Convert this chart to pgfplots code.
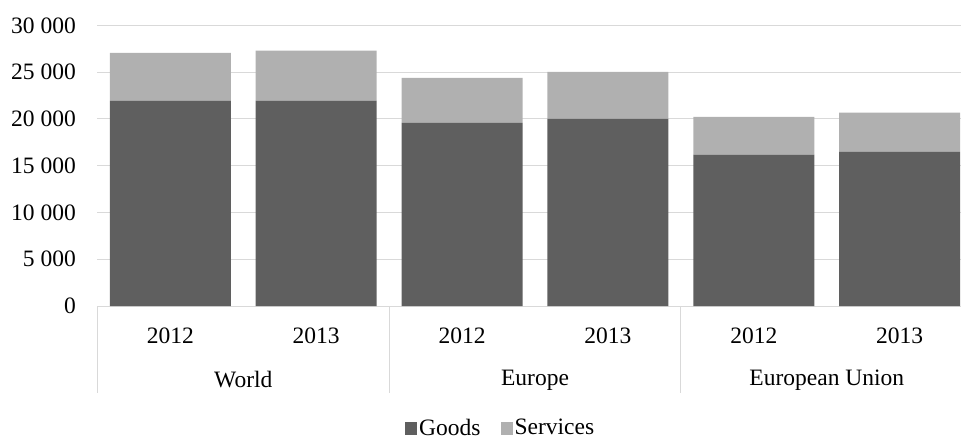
\documentclass[border=0pt]{standalone}
\usepackage{fontspec}
\setmainfont{Liberation Serif}
\usepackage{pgfplots}
\pgfplotsset{compat=1.18}
\definecolor{goods}{HTML}{5F5F5F}
\definecolor{serv}{HTML}{B0B0B0}
\definecolor{gridc}{HTML}{D9D9D9}
\begin{document}
\fontsize{23.5}{28}\selectfont
\begin{tikzpicture}
\begin{axis}[
  at={(0,0)}, anchor=south west,
  scale only axis, width=863.6pt, height=280.7pt,
  ybar stacked, bar width=121pt,
  xmin=-0.5, xmax=5.42, ymin=0, ymax=30000,
  scaled y ticks=false,
  xtick={0,...,5}, xticklabels={2012,2013,2012,2013,2012,2013},
  ytick={0,5000,10000,15000,20000,25000,30000},
  yticklabels={0,5~000,10~000,15~000,20~000,25~000,30~000},
  ymajorgrids, grid style={gridc, line width=1pt},
  major tick length=0pt,
  axis line style={draw=none},
  yticklabel style={anchor=east, inner sep=0pt, xshift=-21.4pt},
  xticklabel style={anchor=center, inner sep=0pt, yshift=-29.5pt},
  clip=false,
  legend columns=2,
  legend style={at={(0.3562,-0.4371)}, anchor=west, draw=none, fill=none, inner sep=0pt,
    nodes={inner sep=2pt}, column sep=0pt,
    /tikz/every even column/.append style={column sep=18pt}},
  legend image code/.code={\path[#1,draw=none] (0pt,-6pt) rectangle (12pt,7pt);},
]
\addplot[fill=goods, draw=none] coordinates {(0,21950) (1,21950) (2,19560) (3,19990) (4,16170) (5,16460)};
\addplot[fill=serv, draw=none] coordinates {(0,5100) (1,5350) (2,4810) (3,5020) (4,4030) (5,4200)};
\legend{Goods,Services}
\draw[gridc, line width=1pt] (axis cs:-0.5,0) -- (axis cs:5.42,0);
\draw[gridc, line width=1pt] (axis cs:-0.5,0) -- ([yshift=-87pt]axis cs:-0.5,0);
\draw[gridc, line width=1pt] (axis cs:1.5,0) -- ([yshift=-87pt]axis cs:1.5,0);
\draw[gridc, line width=1pt] (axis cs:3.5,0) -- ([yshift=-87pt]axis cs:3.5,0);
\node at ([yshift=-74pt]axis cs:0.5,0) {World};
\node at ([yshift=-74pt]axis cs:2.5,0) {Europe};
\node at ([yshift=-74pt]axis cs:4.5,0) {European Union};
\end{axis}
\pgfresetboundingbox
\useasboundingbox (-97.4pt,-131pt) rectangle (863.6pt,306pt);
\end{tikzpicture}
\end{document}
